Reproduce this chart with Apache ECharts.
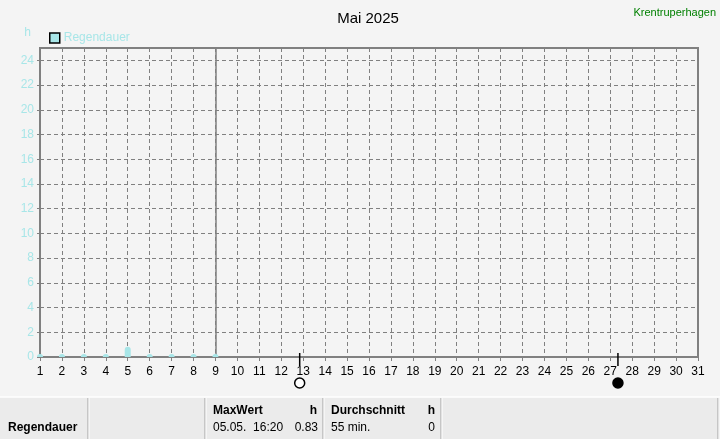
<!DOCTYPE html>
<html>
<head>
<meta charset="utf-8">
<script src="https://cdn.jsdelivr.net/npm/echarts@6/dist/echarts.min.js"></script>
<style>
html, body { margin: 0; padding: 0; background: #f4f4f4; }
#chart { width: 720px; height: 439px; }
</style>
</head>
<body>
<div id="chart"></div>
<script>
// Regendauer je Tag (h), Mai 2025 – Daten bis zum 9.
const days = [1, 2, 3, 4, 5, 6, 7, 8, 9];
const rainHours = [0, 0, 0, 0.1, 0.83, 0, 0, 0, 0];
const todayLine = 9;

// Mondphasen (Tag als Dezimalwert)
const moonDays = [12.84, 27.35];
const moonKinds = ['full', 'new'];

// Tabelle unten
const rowLabel = 'Regendauer';
const maxHeader = ['MaxWert', 'h'];
const maxValues = ['05.05.  16:20', '0.83'];
const avgHeader = ['Durchschnitt', 'h'];
const avgValues = ['55 min.', '0'];

const cyan = '#a8e6e8';
const font = 'Liberation Sans, Arial, sans-serif';

const chart = echarts.init(document.getElementById('chart'));

const tableTop = 397;
const cellLines = [88, 205, 323, 441, 718];

const graphic = [
    { type: 'text', right: 4, top: 7, style: { text: 'Krentruperhagen', fill: '#008000', font: '11px ' + font } },
    { type: 'rect', shape: { x: 0, y: tableTop, width: 720, height: 42 }, style: { fill: '#ebebeb' }, silent: true },
    { type: 'line', shape: { x1: 0, y1: tableTop, x2: 720, y2: tableTop }, style: { stroke: '#ffffff', lineWidth: 1.5 } },
    { type: 'text', x: 8, y: 428, style: { text: rowLabel, fill: '#000', font: 'bold 12px ' + font, textVerticalAlign: 'middle' } },
    { type: 'text', x: 213, y: 411, style: { text: maxHeader[0], fill: '#000', font: 'bold 12px ' + font, textVerticalAlign: 'middle' } },
    { type: 'text', x: 317, y: 411, style: { text: maxHeader[1], fill: '#000', font: 'bold 12px ' + font, textAlign: 'right', textVerticalAlign: 'middle' } },
    { type: 'text', x: 213, y: 428, style: { text: maxValues[0], fill: '#000', font: '12px ' + font, textVerticalAlign: 'middle' } },
    { type: 'text', x: 318, y: 428, style: { text: maxValues[1], fill: '#000', font: '12px ' + font, textAlign: 'right', textVerticalAlign: 'middle' } },
    { type: 'text', x: 331, y: 411, style: { text: avgHeader[0], fill: '#000', font: 'bold 12px ' + font, textVerticalAlign: 'middle' } },
    { type: 'text', x: 435, y: 411, style: { text: avgHeader[1], fill: '#000', font: 'bold 12px ' + font, textAlign: 'right', textVerticalAlign: 'middle' } },
    { type: 'text', x: 331, y: 428, style: { text: avgValues[0], fill: '#000', font: '12px ' + font, textVerticalAlign: 'middle' } },
    { type: 'text', x: 435, y: 428, style: { text: avgValues[1], fill: '#000', font: '12px ' + font, textAlign: 'right', textVerticalAlign: 'middle' } }
];
cellLines.forEach(x => {
    graphic.push({ type: 'line', shape: { x1: x, y1: tableTop + 1, x2: x, y2: 439 }, style: { stroke: '#a0a0a0', lineWidth: 1 } });
    graphic.push({ type: 'line', shape: { x1: x + 1, y1: tableTop + 1, x2: x + 1, y2: 439 }, style: { stroke: '#ffffff', lineWidth: 1 } });
});

const option = {
    backgroundColor: '#f4f4f4',
    animation: false,
    textStyle: { fontFamily: font },
    title: {
        text: 'Mai 2025',
        left: 363,
        top: 6,
        textAlign: 'center',
        textStyle: { fontSize: 15, fontWeight: 'normal', color: '#000' }
    },
    legend: {
        data: ['Regendauer'],
        left: 44,
        top: 27,
        icon: 'rect',
        itemWidth: 10,
        itemHeight: 10,
        itemGap: 5,
        itemStyle: { borderColor: '#000', borderWidth: 1.5 },
        textStyle: { color: cyan, fontSize: 12, padding: [0, 0, 0, -1] }
    },
    grid: [
        { left: 40, right: 22, top: 48, bottom: 82, show: true, borderColor: '#808080', borderWidth: 2, backgroundColor: 'transparent' },
        { left: 40, right: 22, top: 350, height: 40 }
    ],
    xAxis: [
        {
            type: 'value', min: 1, max: 31, interval: 1, gridIndex: 0,
            axisLine: { show: true, lineStyle: { color: '#808080', width: 2 } },
            axisTick: { show: true, length: 4, lineStyle: { color: '#808080' } },
            axisLabel: { color: '#000', fontSize: 12, margin: 9 },
            splitLine: { show: true, lineStyle: { color: '#808080', type: [4, 3], width: 1 } }
        },
        { type: 'value', min: 1, max: 31, gridIndex: 1, show: false }
    ],
    yAxis: [
        {
            type: 'value', min: 0, max: 25, interval: 2, gridIndex: 0,
            name: 'h',
            nameGap: 9,
            nameTextStyle: { color: cyan, fontSize: 12, align: 'right', padding: [0, 9, 0, 0] },
            axisLine: { show: true, lineStyle: { color: '#808080', width: 2 } },
            axisTick: { show: true, length: 3, lineStyle: { color: '#808080' } },
            axisLabel: { color: cyan, fontSize: 12, margin: 6, showMaxLabel: false },
            splitLine: { show: true, lineStyle: { color: '#808080', type: [4, 3], width: 1 } }
        },
        { type: 'value', min: 0, max: 40, inverse: true, gridIndex: 1, show: false }
    ],
    series: [
        {
            name: 'Regendauer',
            type: 'bar',
            xAxisIndex: 0, yAxisIndex: 0,
            data: days.map((d, i) => [d, rainHours[i]]),
            barWidth: 6,
            barMinHeight: 3,
            z: 5,
            itemStyle: { color: cyan, borderRadius: [3, 3, 0, 0] },
            markLine: {
                silent: true,
                symbol: 'none',
                label: { show: false },
                lineStyle: { color: '#808080', type: 'solid', width: 1.5 },
                data: [{ xAxis: todayLine }]
            }
        },
        {
            name: 'Mondstrich',
            type: 'scatter',
            xAxisIndex: 1, yAxisIndex: 1,
            data: moonDays.map(d => [d, 9.5]),
            symbol: 'rect',
            symbolSize: [1.5, 13],
            itemStyle: { color: '#000', opacity: 1 },
            silent: true
        },
        {
            name: 'Mond',
            type: 'scatter',
            xAxisIndex: 1, yAxisIndex: 1,
            data: moonDays.map((d, i) => ({
                value: [d, 33],
                itemStyle: moonKinds[i] === 'full'
                    ? { color: '#ffffff', borderColor: '#000', borderWidth: 1.5, opacity: 1 }
                    : { color: '#000', borderColor: '#000', borderWidth: 1.5, opacity: 1 }
            })),
            symbol: 'circle',
            symbolSize: 10,
            silent: true
        }
    ],
    graphic: graphic
};

chart.setOption(option);
</script>
</body>
</html>
